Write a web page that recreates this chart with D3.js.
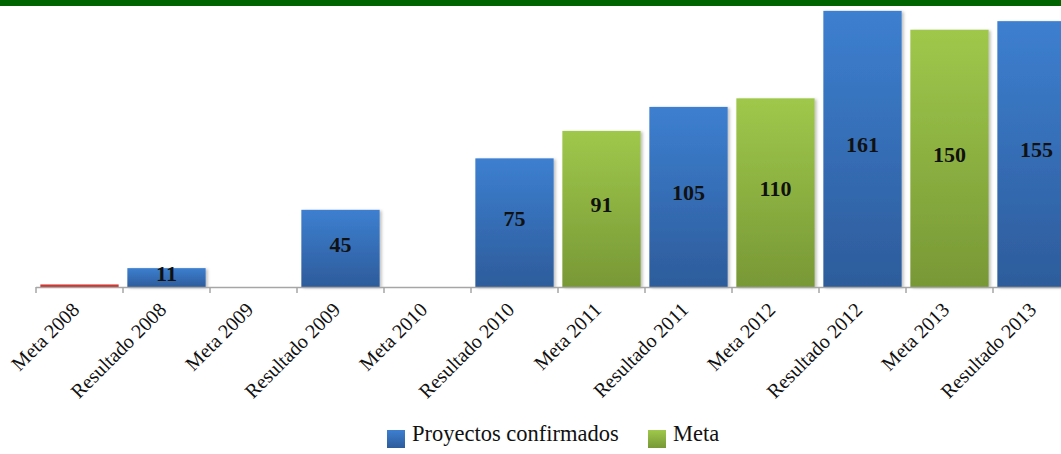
<!DOCTYPE html>
<html>
<head>
<meta charset="utf-8">
<script src="https://cdn.jsdelivr.net/npm/d3@7"></script>
<style>
  body { margin: 0; background: #fff; }
  svg { display: block; }
</style>
</head>
<body>
<div id="chart"></div>
<script>
// categories along the x axis
let categories = ['Meta 2008', 'Resultado 2008', 'Meta 2009', 'Resultado 2009',
                  'Meta 2010', 'Resultado 2010', 'Meta 2011', 'Resultado 2011',
                  'Meta 2012', 'Resultado 2012', 'Meta 2013', 'Resultado 2013'];
// values (null = no bar)
let values = [1.5, 11, null, 45, null, 75, 91, 105, 110, 161, 150, 155];
// which series each bar belongs to
let series = ['red', 'blue', 'green', 'blue', 'green', 'blue', 'green', 'blue', 'green', 'blue', 'green', 'blue'];
let showLabel = [false, true, false, true, false, true, true, true, true, true, true, true];
let legendItems = [{ name: 'Proyectos confirmados', key: 'blue' }, { name: 'Meta', key: 'green' }];

let serifFont = 'Liberation Serif, DejaVu Serif, serif';
let width = 1061, height = 454;
let svg = d3.select('#chart').append('svg')
    .attr('width', width)
    .attr('height', height);

let defs = svg.append('defs');
let grads = { blue: ['#3d7fd0', '#2d5c9b'], green: ['#9fc84b', '#789836'], red: ['#d9403a', '#b8302c'] };
Object.keys(grads).forEach(k => {
    let g = defs.append('linearGradient').attr('id', 'g-' + k)
        .attr('x1', 0).attr('y1', 0).attr('x2', 0).attr('y2', 1);
    g.append('stop').attr('offset', '0%').attr('stop-color', grads[k][0]);
    g.append('stop').attr('offset', '100%').attr('stop-color', grads[k][1]);
});
let shadow = defs.append('filter').attr('id', 'shadow')
    .attr('x', '-10%').attr('y', '-10%').attr('width', '130%').attr('height', '130%');
shadow.append('feDropShadow').attr('dx', 2).attr('dy', 1).attr('stdDeviation', 1.5)
    .attr('flood-color', '#000').attr('flood-opacity', 0.25);

// green band on top
svg.append('rect').attr('x', 0).attr('y', 0).attr('width', width).attr('height', 6).attr('fill', '#006400');

let x = d3.scaleBand()
    .domain(categories)
    .range([36, 36 + 12 * 87])
    .paddingInner(0.1)
    .paddingOuter(0.05);

let y = d3.scaleLinear()
    .domain([0, 165])
    .range([287, 4]);

let data = categories.map((c, i) => ({ cat: c, value: values[i], key: series[i], label: showLabel[i] }));

svg.append('g')
    .selectAll('rect')
    .data(data.filter(d => d.value != null))
    .enter().append('rect')
    .attr('x', d => x(d.cat))
    .attr('y', d => y(d.value))
    .attr('width', x.bandwidth())
    .attr('height', d => y(0) - y(d.value))
    .attr('fill', d => 'url(#g-' + d.key + ')')
    .attr('filter', d => d.key === 'red' ? null : 'url(#shadow)');

svg.append('g')
    .selectAll('text')
    .data(data.filter(d => d.value != null && d.label))
    .enter().append('text')
    .attr('x', d => x(d.cat) + x.bandwidth() / 2)
    .attr('y', d => (y(d.value) + y(0)) / 2)
    .attr('dy', '0.15em')
    .attr('text-anchor', 'middle')
    .attr('font-family', serifFont)
    .attr('font-weight', 'bold')
    .attr('font-size', 22)
    .attr('fill', '#111')
    .text(d => d.value);

// x axis with ticks between categories
let axis = svg.append('g').attr('class', 'axis');
let step = x.step();
axis.append('line')
    .attr('x1', 36).attr('x2', width)
    .attr('y1', 287.5).attr('y2', 287.5)
    .attr('stroke', '#a6a6a6').attr('stroke-width', 1.5);
axis.selectAll('line.tick')
    .data(d3.range(13))
    .enter().append('line')
    .attr('class', 'tick')
    .attr('x1', i => 36 + i * step).attr('x2', i => 36 + i * step)
    .attr('y1', 287).attr('y2', 293)
    .attr('stroke', '#a6a6a6').attr('stroke-width', 1.5);

axis.selectAll('text')
    .data(categories)
    .enter().append('text')
    .attr('transform', c => 'translate(' + (x(c) + x.bandwidth() / 2 + 1) + ',311) rotate(-45)')
    .attr('text-anchor', 'end')
    .attr('font-family', serifFont)
    .attr('font-size', 20)
    .attr('fill', '#111')
    .text(c => c);

// legend
let legend = svg.append('g').attr('transform', 'translate(387,430)');
legendItems.forEach((item, i) => {
    let g = legend.append('g').attr('transform', 'translate(' + (i === 0 ? 0 : 261) + ',0)');
    g.append('rect').attr('width', 18).attr('height', 18).attr('fill', 'url(#g-' + item.key + ')');
    g.append('text').attr('x', 25).attr('y', 11)
        .attr('font-family', serifFont)
        .attr('font-size', 22.5)
        .attr('fill', '#111')
        .text(item.name);
});
</script>
</body>
</html>
